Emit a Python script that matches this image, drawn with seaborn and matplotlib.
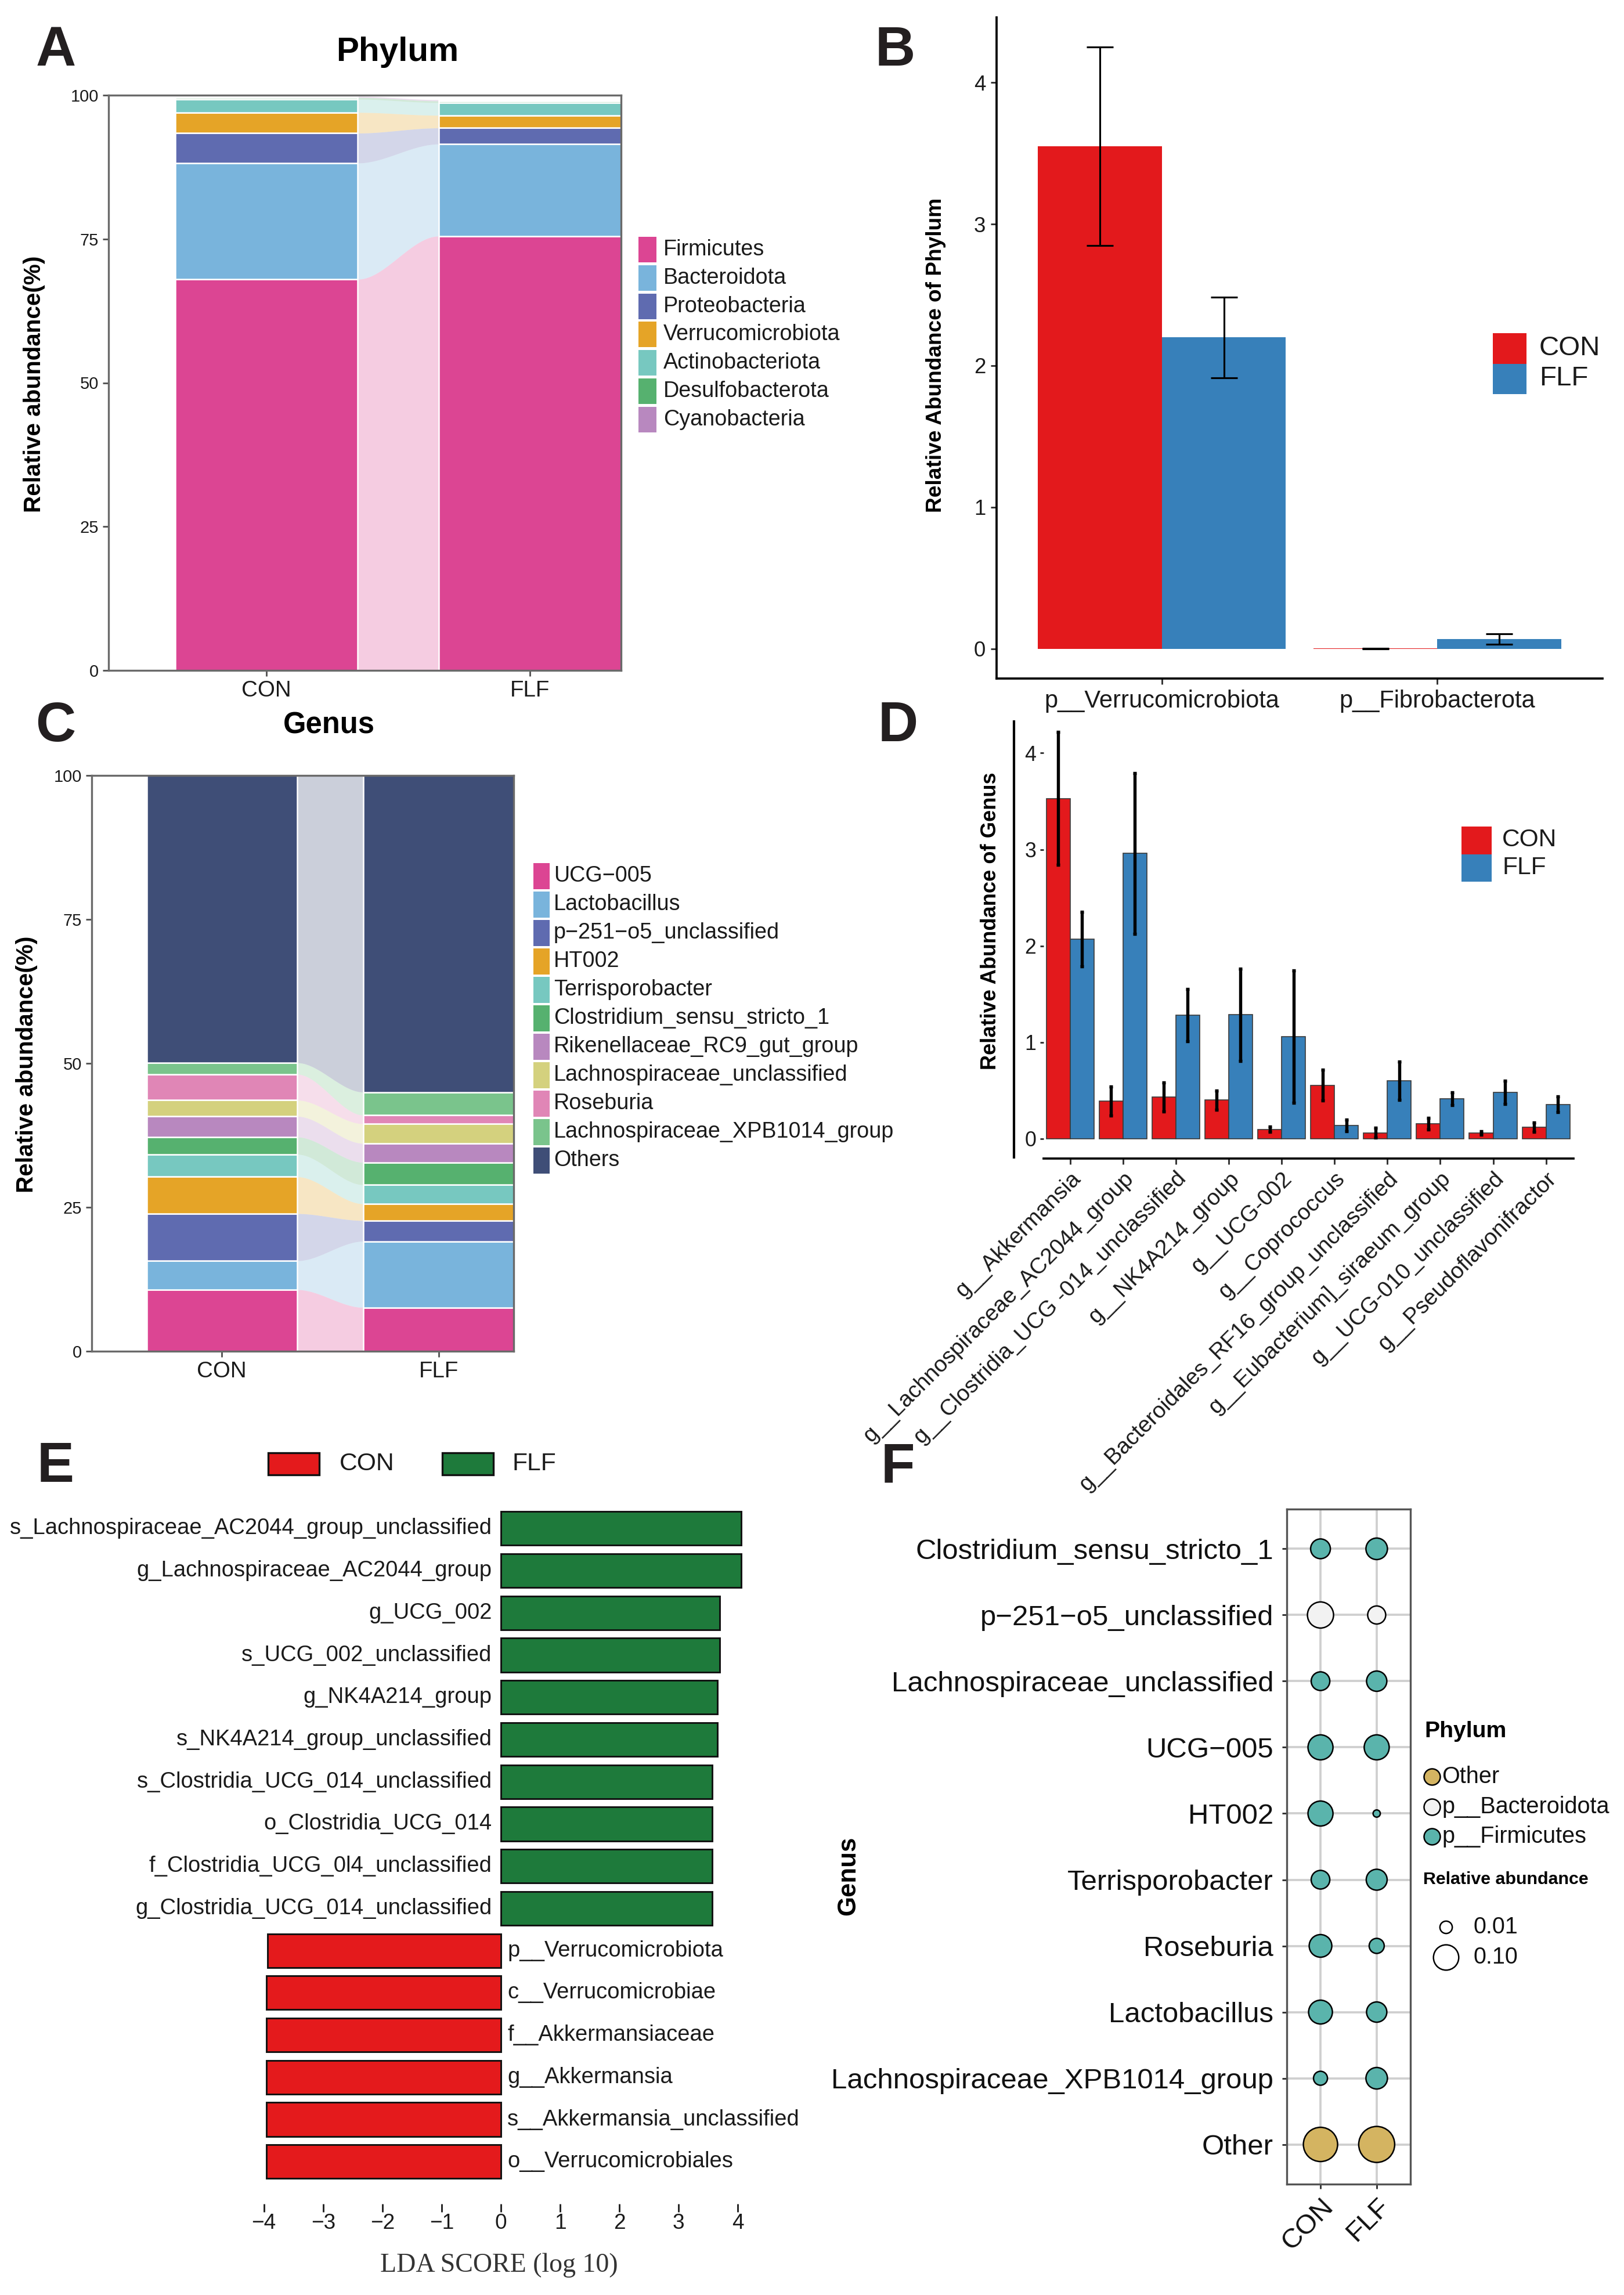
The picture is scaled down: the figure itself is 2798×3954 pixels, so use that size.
import numpy as np
import pandas as pd
import matplotlib
matplotlib.use("Agg")
import matplotlib.pyplot as plt
import seaborn as sns
from matplotlib import font_manager as fm
from matplotlib.patches import Rectangle

# ------------------------------------------------------------------ data
groups = ["CON", "FLF"]

phyla = ["Firmicutes", "Bacteroidota", "Proteobacteria", "Verrucomicrobiota",
         "Actinobacteriota", "Desulfobacterota", "Cyanobacteria"]
phylum_con = [68.0, 20.2, 5.2, 3.6, 2.3, 0.3, 0.2]
phylum_flf = [75.5, 16.0, 2.8, 2.2, 2.2, 0.3, 0.2]
phylum_colors = ["#DC4593", "#79B4DC", "#5F6BB0", "#E5A427", "#77C8C0", "#56B16F", "#B888BF"]

genera = ["UCG\u2212005", "Lactobacillus", "p\u2212251\u2212o5_unclassified", "HT002",
          "Terrisporobacter", "Clostridium_sensu_stricto_1", "Rikenellaceae_RC9_gut_group",
          "Lachnospiraceae_unclassified", "Roseburia", "Lachnospiraceae_XPB1014_group", "Others"]
genus_con = [10.7, 5.0, 8.2, 6.4, 3.9, 3.0, 3.6, 2.8, 4.5, 2.0, 49.9]
genus_flf = [7.6, 11.5, 3.6, 2.9, 3.3, 3.9, 3.3, 3.4, 1.5, 4.0, 55.0]
genus_colors = ["#DC4593", "#79B4DC", "#5F6BB0", "#E5A427", "#77C8C0", "#56B16F",
                "#B888BF", "#D4D17E", "#E086B6", "#7AC48C", "#3F4E77"]

phylum_sig = ["p__Verrucomicrobiota", "p__Fibrobacterota"]
phylum_sig_con = [3.55, 0.003]
phylum_sig_con_err = [0.70, 0.002]
phylum_sig_flf = [2.20, 0.068]
phylum_sig_flf_err = [0.285, 0.036]

genus_sig = ["g__Akkermansia", "g__Lachnospiraceae_AC2044_group",
             "g__Clostridia_UCG -014_unclassified", "g__NK4A214_group", "g__UCG-002",
             "g__Coprococcus", "g__Bacteroidales_RF16_group_unclassified",
             "g__Eubacterium]_siraeum_group", "g__UCG-010_unclassified",
             "g__Pseudoflavonifractor"]
genus_sig_con = [3.53, 0.39, 0.435, 0.40, 0.098, 0.554, 0.062, 0.155, 0.062, 0.12]
genus_sig_con_err = [0.69, 0.15, 0.15, 0.10, 0.026, 0.16, 0.05, 0.06, 0.018, 0.047]
genus_sig_flf = [2.07, 2.96, 1.28, 1.285, 1.06, 0.14, 0.60, 0.415, 0.48, 0.357]
genus_sig_flf_err = [0.285, 0.835, 0.27, 0.48, 0.685, 0.06, 0.20, 0.065, 0.12, 0.08]

lda_names = ["s_Lachnospiraceae_AC2044_group_unclassified", "g_Lachnospiraceae_AC2044_group",
             "g_UCG_002", "s_UCG_002_unclassified", "g_NK4A214_group",
             "s_NK4A214_group_unclassified", "s_Clostridia_UCG_014_unclassified",
             "o_Clostridia_UCG_014", "f_Clostridia_UCG_0l4_unclassified",
             "g_Clostridia_UCG_014_unclassified",
             "p__Verrucomicrobiota", "c__Verrucomicrobiae", "f__Akkermansiaceae",
             "g__Akkermansia", "s__Akkermansia_unclassified", "o__Verrucomicrobiales"]
lda_scores = [4.06, 4.06, 3.69, 3.69, 3.65, 3.65, 3.57, 3.57, 3.57, 3.57,
              -3.94, -3.96, -3.96, -3.96, -3.96, -3.96]
lda_groups = ["FLF"] * 10 + ["CON"] * 6
lda_ticks = [-4, -3, -2, -1, 0, 1, 2, 3, 4]

bubble_genus = ["Clostridium_sensu_stricto_1", "p\u2212251\u2212o5_unclassified",
                "Lachnospiraceae_unclassified", "UCG\u2212005", "HT002", "Terrisporobacter",
                "Roseburia", "Lactobacillus", "Lachnospiraceae_XPB1014_group", "Other"]
bubble_phylum = ["p__Firmicutes", "p__Bacteroidota", "p__Firmicutes", "p__Firmicutes",
                 "p__Firmicutes", "p__Firmicutes", "p__Firmicutes", "p__Firmicutes",
                 "p__Firmicutes", "Other"]
bubble_con = [0.050, 0.109, 0.042, 0.097, 0.097, 0.042, 0.074, 0.085, 0.016, 0.217]
bubble_flf = [0.064, 0.038, 0.054, 0.097, 0.0002, 0.059, 0.021, 0.054, 0.064, 0.245]
bubble_phylum_levels = ["Other", "p__Bacteroidota", "p__Firmicutes"]
bubble_phylum_colors = ["#D4B461", "#F2F2F2", "#5AB4AC"]
bubble_legend_values = [0.01, 0.10]

# ------------------------------------------------------------------ style
sns.set_theme(style="ticks")
_names = {f.name for f in fm.fontManager.ttflist}
REG = "Liberation Sans" if "Liberation Sans" in _names else "DejaVu Sans"
if "Liberation Sans Narrow" in _names:
    NAR, NK = "Liberation Sans Narrow", 1.0
elif "DejaVu Sans Condensed" in _names:
    NAR, NK = "DejaVu Sans Condensed", 0.86
else:
    NAR, NK = REG, 0.84
SERIF = "Liberation Serif" if "Liberation Serif" in _names else "DejaVu Serif"
plt.rcParams["font.family"] = [REG, "DejaVu Sans"]
plt.rcParams["axes.unicode_minus"] = True

TXT = "#1a1a1a"
W, H, DPI = 2798, 3954, 300
fig = plt.figure(figsize=(W / DPI, H / DPI), dpi=DPI)
fig.patch.set_facecolor("white")


def px_ax(l, t, r, b):
    return fig.add_axes([l / W, 1 - b / H, (r - l) / W, (b - t) / H])


def nsz(s):
    return s * NK


# ------------------------------------------------------------------ A & C : stacked + alluvial
def stacked_alluvial(ax, va, vb, colors, w):
    ca = np.concatenate([[0], np.cumsum(va)])
    cb = np.concatenate([[0], np.cumsum(vb)])
    x0, x1 = w / 2, 1 - w / 2
    xs = np.linspace(x0, x1, 80)
    t = (xs - x0) / (x1 - x0)
    s = t * t * (3 - 2 * t)
    for k in range(len(va)):
        lo = ca[k] + (cb[k] - ca[k]) * s
        hi = ca[k + 1] + (cb[k + 1] - ca[k + 1]) * s
        ax.fill_between(xs, lo, hi, color=colors[k], alpha=0.27, lw=0)
        ax.bar([0, 1], [va[k], vb[k]], bottom=[ca[k], cb[k]], width=w,
               color=colors[k], edgecolor="white", linewidth=0.6)
    ax.set_xlim(-0.6, 1 + w / 2)
    ax.set_ylim(0, 100)
    ax.set_xticks([0, 1])
    ax.set_xticklabels(groups)
    ax.set_yticks([0, 25, 50, 75, 100])
    for sp in ax.spines.values():
        sp.set_color("#6a6a6a")
        sp.set_linewidth(0.8)
    ax.tick_params(axis="both", length=2.5, width=0.7, color="#555555", labelcolor=TXT, pad=1.5)
    ax.tick_params(axis="y", labelsize=nsz(8.3), labelfontfamily=NAR)
    ax.tick_params(axis="x", labelsize=nsz(11), labelfontfamily=NAR)
    ax.set_xlabel("")
    ax.set_ylabel("")


BAR_W = 0.693
axA = px_ax(187, 164, 1070, 1155)
stacked_alluvial(axA, phylum_con, phylum_flf, phylum_colors, BAR_W)

axC = px_ax(158, 1336, 885, 2328)
stacked_alluvial(axC, genus_con, genus_flf, genus_colors, BAR_W)

# ------------------------------------------------------------------ B & D : grouped bars
pal_cf = {"CON": "#E3191C", "FLF": "#3780BA"}


def grouped(ax, names, con, con_err, flf, flf_err, lw_edge, elw, cap):
    df = pd.DataFrame({
        "taxon": list(names) * 2,
        "group": ["CON"] * len(names) + ["FLF"] * len(names),
        "value": list(con) + list(flf),
    })
    sns.barplot(data=df, x="taxon", y="value", hue="group", order=names, hue_order=groups,
                palette=pal_cf, width=0.9, saturation=1, errorbar=None, legend=False,
                edgecolor="#3a3a3a" if lw_edge > 0 else "none", linewidth=lw_edge, ax=ax)
    pos = np.arange(len(names))
    for j, (vals, errs) in enumerate([(con, con_err), (flf, flf_err)]):
        ax.errorbar(pos + (j - 0.5) * 0.45, vals, yerr=errs, fmt="none", ecolor="black",
                    elinewidth=elw, capsize=cap, capthick=elw, zorder=5)
    ax.set_xlabel("")
    ax.set_ylabel("")
    ax.spines["top"].set_visible(False)
    ax.spines["right"].set_visible(False)
    ax.set_yticks([0, 1, 2, 3, 4])


axB = px_ax(1717, 30, 2761, 1169)
grouped(axB, phylum_sig, phylum_sig_con, phylum_sig_con_err, phylum_sig_flf,
        phylum_sig_flf_err, 0, 0.75, 5.6)
axB.set_xlim(-0.6, 1.6)
axB.set_ylim(-0.21, 4.46)
for sp in ["left", "bottom"]:
    axB.spines[sp].set_color("black")
    axB.spines[sp].set_linewidth(0.9)
axB.tick_params(axis="both", length=2.5, width=0.7, color="#333333", labelcolor=TXT, pad=2)
axB.tick_params(axis="y", labelsize=8.8)
axB.tick_params(axis="x", labelsize=10)

axD = px_ax(1798, 1241, 2711, 1996)
grouped(axD, genus_sig, genus_sig_con, genus_sig_con_err, genus_sig_flf,
        genus_sig_flf_err, 0.4, 1.3, 0.8)
axD.set_xlim(-0.5, 9.52)
axD.set_ylim(-0.205, 4.34)
axD.spines["left"].set_visible(False)
axD.spines["bottom"].set_color("black")
axD.spines["bottom"].set_linewidth(0.9)
axD.tick_params(axis="both", width=0.7, color="#333333", labelcolor=TXT)
axD.tick_params(axis="y", labelsize=8.6, length=1.5, pad=1.5)
axD.tick_params(axis="x", labelsize=9.3, length=2.5, pad=1.5)
plt.setp(axD.get_xticklabels(), rotation=45, ha="right", va="top", rotation_mode="anchor")

# ------------------------------------------------------------------ E : LDA
axE = px_ax(424, 2597, 1302, 3797)
dfE = pd.DataFrame({"name": lda_names, "score": lda_scores, "group": lda_groups})
sns.barplot(data=dfE, x="score", y="name", hue="group", order=lda_names, orient="h",
            palette={"FLF": "#1E7A3B", "CON": "#E41A1C"}, dodge=False, width=0.8,
            saturation=1, edgecolor="#111111", linewidth=0.7, errorbar=None,
            legend=False, ax=axE)
axE.set_xlim(-4.3, 4.3)
axE.set_ylim(16.0, -0.5)
axE.set_xticks(lda_ticks)
axE.set_yticks([])
axE.set_xlabel("")
axE.set_ylabel("")
for sp in axE.spines.values():
    sp.set_visible(False)
axE.tick_params(axis="x", length=3.4, width=0.7, color="#222222", labelcolor=TXT,
                labelsize=nsz(10.6), labelfontfamily=NAR, pad=0.5)
for i, (nm, sc) in enumerate(zip(lda_names, lda_scores)):
    if sc > 0:
        axE.text(-0.15, i, nm, ha="right", va="center", fontsize=nsz(10.9),
                 family=[NAR, "DejaVu Sans"], color=TXT)
    else:
        axE.text(0.11, i, nm, ha="left", va="center", fontsize=nsz(10.9),
                 family=[NAR, "DejaVu Sans"], color=TXT)

# ------------------------------------------------------------------ F : bubbles
def bubble_area(v):
    d_px = 11 + 103 * np.sqrt(np.asarray(v, dtype=float))
    return (d_px * 72.0 / DPI) ** 2


axF = px_ax(2217, 2600, 2430, 3763)
nF = len(bubble_genus)
dfF = pd.DataFrame({
    "genus": bubble_genus * 2,
    "group": ["CON"] * nF + ["FLF"] * nF,
    "phylum": bubble_phylum * 2,
    "value": bubble_con + bubble_flf,
})
dfF["xpos"] = dfF["group"].map({g: i + 1 for i, g in enumerate(groups)})
dfF["ypos"] = dfF["genus"].map({g: i + 1 for i, g in enumerate(bubble_genus)})
dfF["area"] = bubble_area(dfF["value"])
amin, amax = float(dfF["area"].min()), float(dfF["area"].max())
axF.set_axisbelow(True)
sns.scatterplot(data=dfF, x="xpos", y="ypos", hue="phylum", hue_order=bubble_phylum_levels,
                palette=dict(zip(bubble_phylum_levels, bubble_phylum_colors)),
                size="area", sizes=(amin, amax), size_norm=(amin, amax),
                edgecolor="black", linewidth=0.6, legend=False, ax=axF, zorder=3)
axF.set_xlim(0.4, 2.6)
axF.set_ylim(10.6, 0.4)
axF.set_xticks([1, 2])
axF.set_xticklabels(groups)
axF.set_yticks(range(1, nF + 1))
axF.set_yticklabels(bubble_genus)
axF.grid(True, color="#CFCFCF", linewidth=0.9)
axF.set_xlabel("")
axF.set_ylabel("")
for sp in axF.spines.values():
    sp.set_color("#555555")
    sp.set_linewidth(0.8)
axF.tick_params(axis="both", length=2, width=0.7, color="#333333", labelcolor="#111111")
axF.tick_params(axis="y", labelsize=11.8, pad=3.5)
axF.tick_params(axis="x", labelsize=11.4, pad=2)
plt.setp(axF.get_xticklabels(), rotation=45, ha="right", va="top", rotation_mode="anchor")

# ------------------------------------------------------------------ overlay : letters, titles, legends
ov = fig.add_axes([0, 0, 1, 1])
ov.set_xlim(0, W)
ov.set_ylim(H, 0)
ov.axis("off")
ov.patch.set_alpha(0)


def T(x, y, s, size, font=REG, **kw):
    kw.setdefault("color", TXT)
    kw.setdefault("va", "center")
    ov.text(x, y, s, fontsize=size, family=[font, "DejaVu Sans"], **kw)


for letter, (lx, ly) in zip("ABCDEF", [(96, 88), (1542, 88), (96, 1252),
                                        (1547, 1252), (96, 2528), (1547, 2528)]):
    T(lx, ly, letter, 23, weight="bold", ha="center", color="#231F20")

T(685, 90, "Phylum", 14, weight="bold", ha="center", color="black")
T(567, 1250, "Genus", nsz(14.5), font=NAR, weight="bold", ha="center", color="black")

T(59, 662, "Relative abundance(%)", 9.7, weight="bold", ha="center", rotation=90, color="black")
T(46, 1834, "Relative abundance(%)", 9.7, weight="bold", ha="center", rotation=90, color="black")
T(1612, 612, "Relative Abundance of Phylum", 8.9, weight="bold", ha="center", rotation=90, color="black")
T(1707, 1587, "Relative Abundance of Genus", 8.7, weight="bold", ha="center", rotation=90, color="black")
T(1462, 3232, "Genus", 10.5, weight="bold", ha="center", rotation=90, color="black")
T(860, 3903, "LDA SCORE (log 10)", 11, font=SERIF, ha="center", color="#333333")

# extra vertical rule of panel D
ov.plot([1747, 1747], [1241, 1996], color="black", lw=1.0, solid_capstyle="butt")

# legend A
for i, (nm, col) in enumerate(zip(phyla, phylum_colors)):
    yc = 430 + i * 48.8
    ov.add_patch(Rectangle((1100, yc - 22), 31, 44, color=col, lw=0))
    T(1143, yc, nm, nsz(10.8), font=NAR)

# legend C
for i, (nm, col) in enumerate(zip(genera, genus_colors)):
    yc = 1509 + i * 49
    ov.add_patch(Rectangle((919, yc - 22.5), 28, 45, color=col, lw=0))
    T(954, yc, nm, nsz(10.8), font=NAR)

# legend B
for i, g in enumerate(groups):
    ov.add_patch(Rectangle((2572, 574 + i * 52.5), 58, 52.5, color=pal_cf[g], lw=0))
    T(2652, 600 + i * 52.5, g, 11.4)

# legend D
for i, g in enumerate(groups):
    ov.add_patch(Rectangle((2518, 1424 + i * 47.5), 52, 47.5, color=pal_cf[g], lw=0))
    T(2588, 1447 + i * 47.5, g, 10.2)

# legend E
for (px, tx, g, col) in [(462, 585, "CON", "#E41A1C"), (762, 883, "FLF", "#1E7A3B")]:
    ov.add_patch(Rectangle((px, 2503), 88, 38, facecolor=col, edgecolor="#111111", lw=0.8))
    T(tx, 2522, g, nsz(12.2), font=NAR)

# legend F
T(2454, 2983, "Phylum", 9.4, weight="bold", color="black")
for i, (lv, col) in enumerate(zip(bubble_phylum_levels, bubble_phylum_colors)):
    yc = 3061 + i * 51.5
    ov.scatter([2467], [yc], s=(28 * 72 / DPI) ** 2, color=col, edgecolor="black", lw=0.6)
    T(2484, yc, lv, 9.5, color="#111111")
T(2452, 3238, "Relative abundance", 7.3, weight="bold", color="black")
for i, v in enumerate(bubble_legend_values):
    yc = 3320 + i * 52
    ov.scatter([2491], [yc], s=bubble_area(v), color="white", edgecolor="black", lw=0.6)
    T(2539, yc, f"{v:.2f}", 9.5, color="#111111")

fig.savefig("out.png", dpi=DPI, facecolor="white")
